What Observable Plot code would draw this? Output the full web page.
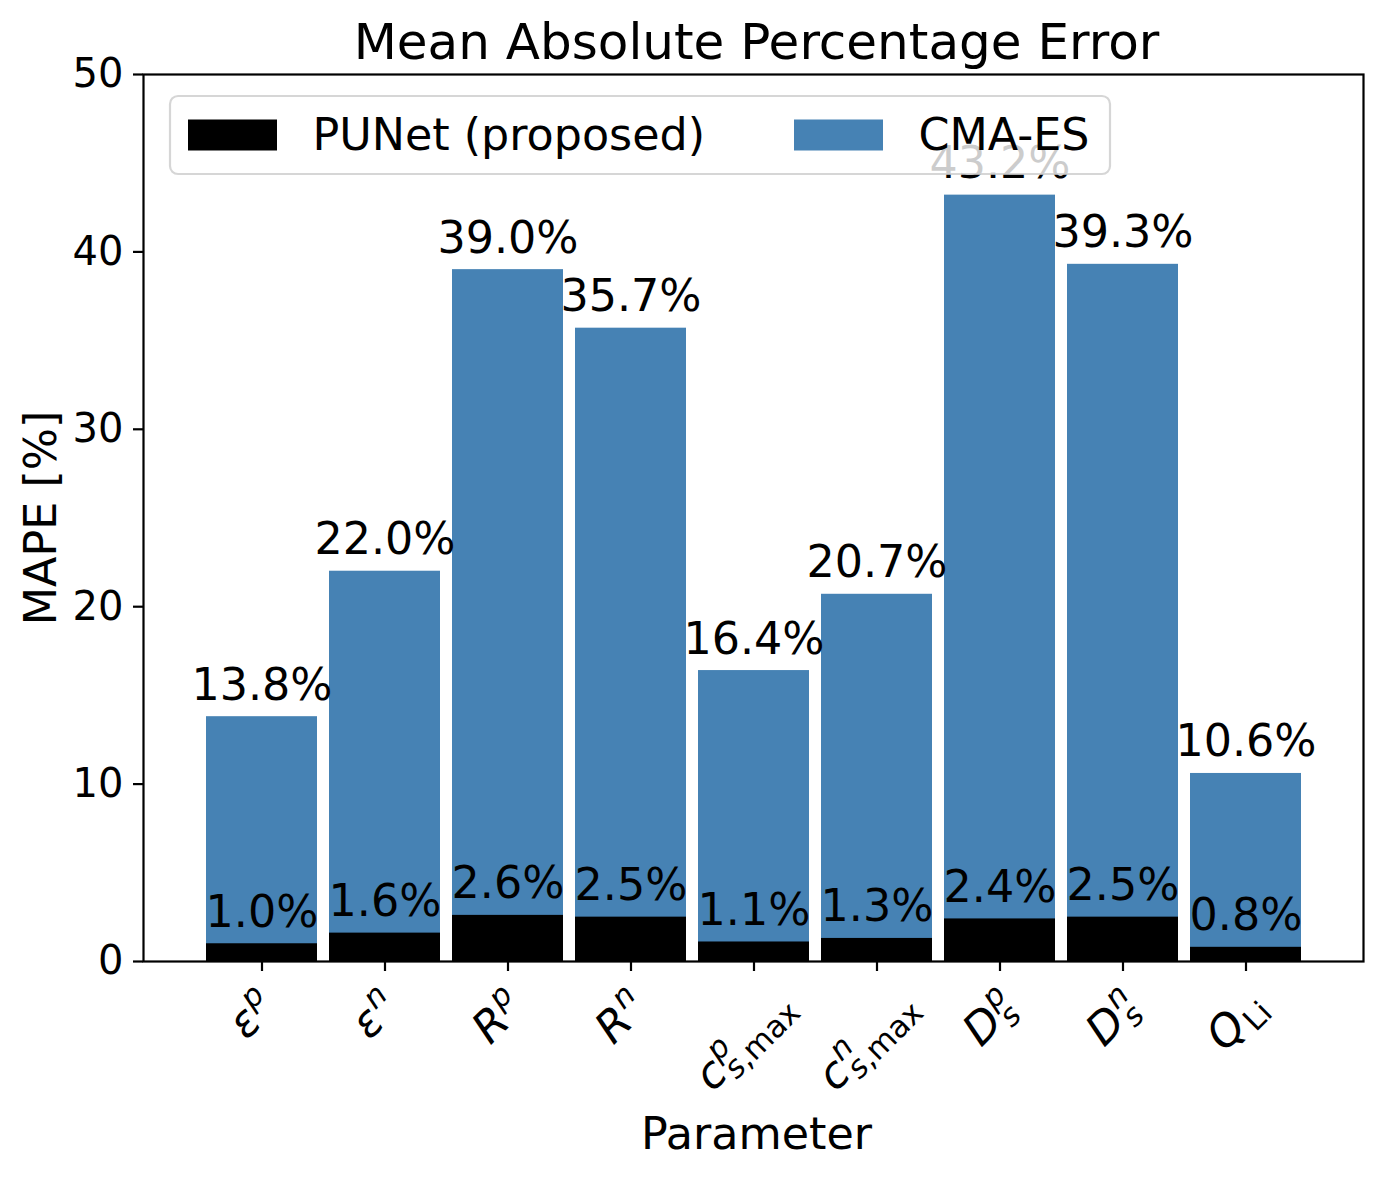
<!DOCTYPE html>
<html>
<head>
<meta charset="utf-8">
<script src="https://cdn.jsdelivr.net/npm/d3@7"></script>
<script src="https://cdn.jsdelivr.net/npm/@observablehq/plot@0.6"></script>
<style>
  html, body { margin: 0; padding: 0; background: #fff; }
  #chart svg { display: block; }
</style>
</head>
<body>
<div id="chart"></div>
<script>
// ---- data ----
const parameters = ["eps_p", "eps_n", "R_p", "R_n", "cmax_p", "cmax_n", "Ds_p", "Ds_n", "Q_Li"];
const tickMain = ["ε", "ε", "R", "R", "c", "c", "D", "D", "Q"];
const tickSup = ["p", "n", "p", "n", "p", "n", "p", "n", ""];
const tickSubItalic = ["", "", "", "", "s", "s", "s", "s", ""];
const tickSubRoman = ["", "", "", "", ",max", ",max", "", "", "Li"];
const punet = [1.0, 1.6, 2.6, 2.5, 1.1, 1.3, 2.4, 2.5, 0.8];
const cmaes = [13.8, 22.0, 39.0, 35.7, 16.4, 20.7, 43.2, 39.3, 10.6];
const yTicks = [0, 10, 20, 30, 40, 50];
const seriesNames = ["PUNet (proposed)", "CMA-ES"];
const seriesColors = ["#000000", "#4682b4"];
const titleText = "Mean Absolute Percentage Error";
const xLabel = "Parameter";
const yLabel = "MAPE [%]";

const rows = parameters.map((p, i) => ({param: p, punet: punet[i], cmaes: cmaes[i]}));
const fmt = v => v.toFixed(1) + "%";

const W = 1383, H = 1178;
const ML = 143, MR = 20, MT = 74, MB = 217;
const FONT = "DejaVu Sans";

const chart = Plot.plot({
  width: W,
  height: H,
  marginLeft: ML,
  marginRight: MR,
  marginTop: MT,
  marginBottom: MB,
  style: {fontFamily: FONT, fontSize: "40px", color: "#000", background: "#fff", overflow: "visible"},
  x: {domain: parameters, paddingInner: 0.1, paddingOuter: 0.5, align: 0.5},
  y: {domain: [0, 50]},
  marks: [
    Plot.barY(rows, {x: "param", y: "cmaes", fill: seriesColors[1]}),
    Plot.barY(rows, {x: "param", y: "punet", fill: seriesColors[0]}),
    Plot.text(rows, {x: "param", y: "cmaes", text: d => fmt(d.cmaes), lineAnchor: "bottom", dy: -17, fontSize: 44.4, fill: "#000"}),
    Plot.text(rows, {x: "param", y: "punet", text: d => fmt(d.punet), lineAnchor: "bottom", dy: -17, fontSize: 44.4, fill: "#000"}),
    Plot.frame({stroke: "#000", strokeWidth: 2.2}),
    Plot.axisY({ticks: yTicks, tickFormat: d => String(d), tickSize: 10, tickPadding: 10, strokeWidth: 2.2, fontSize: 40, label: null}),
    Plot.axisX({tickSize: 10, tickFormat: () => "", strokeWidth: 2.2, label: null}),
    Plot.text([titleText], {frameAnchor: "top", lineAnchor: "bottom", dx: 3, dy: -16, fontSize: 50, fill: "#000"}),
    Plot.text([xLabel], {frameAnchor: "bottom", lineAnchor: "bottom", dx: 3, dy: 187, fontSize: 44.4, fill: "#000"}),
    Plot.text([yLabel], {frameAnchor: "left", textAnchor: "middle", lineAnchor: "bottom", rotate: -90, dx: -88, fontSize: 44.4, fill: "#000"})
  ]
});

document.getElementById("chart").appendChild(chart);

// ---- x tick labels (math-style, rotated 45°) ----
const svg = d3.select(chart);
const xs = chart.scale("x");
const f = 44;
const gL = svg.append("g").attr("font-family", FONT).attr("fill", "#000").attr("text-anchor", "start");
parameters.forEach((p, i) => {
  const cx = xs.apply(p) + xs.bandwidth / 2;
  const g = gL.append("g");
  const main = g.append("text").attr("font-size", f).attr("font-style", "italic").text(tickMain[i]);
  const wMain = main.node().getComputedTextLength();
  const sx = wMain + 0.04 * f;
  let wScr = 0;
  if (tickSup[i]) {
    const t = g.append("text").attr("x", sx).attr("y", -0.4 * f).attr("font-size", 0.7 * f)
      .attr("font-style", "italic").text(tickSup[i]);
    wScr = Math.max(wScr, t.node().getComputedTextLength());
  }
  if (tickSubItalic[i] || tickSubRoman[i]) {
    const t = g.append("text").attr("x", sx).attr("y", 0.18 * f).attr("font-size", 0.7 * f);
    if (tickSubItalic[i]) t.append("tspan").attr("font-style", "italic").text(tickSubItalic[i]);
    if (tickSubRoman[i]) t.append("tspan").text(tickSubRoman[i]);
    wScr = Math.max(wScr, t.node().getComputedTextLength());
  }
  const w = sx + wScr;
  const ox = cx + 1 - w / (2 * Math.SQRT2);
  const oy = (H - MB) + 48 + w / Math.SQRT2;
  g.attr("transform", `translate(${ox},${oy}) rotate(-45)`);
});

// ---- legend (drawn on top, semi-transparent like matplotlib) ----
const lf = 44.4;
const lg = svg.append("g").attr("font-family", FONT).attr("font-size", lf).attr("text-anchor", "start");
const boxX = 170, boxY = 96, boxH = 78;
lg.append("rect").attr("x", boxX).attr("y", boxY).attr("width", 940).attr("height", boxH)
  .attr("rx", 8).attr("ry", 8)
  .attr("fill", "#fff").attr("fill-opacity", 0.8)
  .attr("stroke", "#ccc").attr("stroke-opacity", 0.8).attr("stroke-width", 2.2);
let lx = boxX + 18;
const midY = boxY + boxH / 2;
seriesNames.forEach((name, i) => {
  lg.append("rect").attr("x", lx).attr("y", midY - 15.5).attr("width", 89).attr("height", 31).attr("fill", seriesColors[i]);
  const t = lg.append("text").attr("x", lx + 89 + 35.5).attr("y", midY + 15).attr("fill", "#000").text(name);
  lx = lx + 89 + 35.5 + t.node().getComputedTextLength() + 89;
});
</script>
</body>
</html>
